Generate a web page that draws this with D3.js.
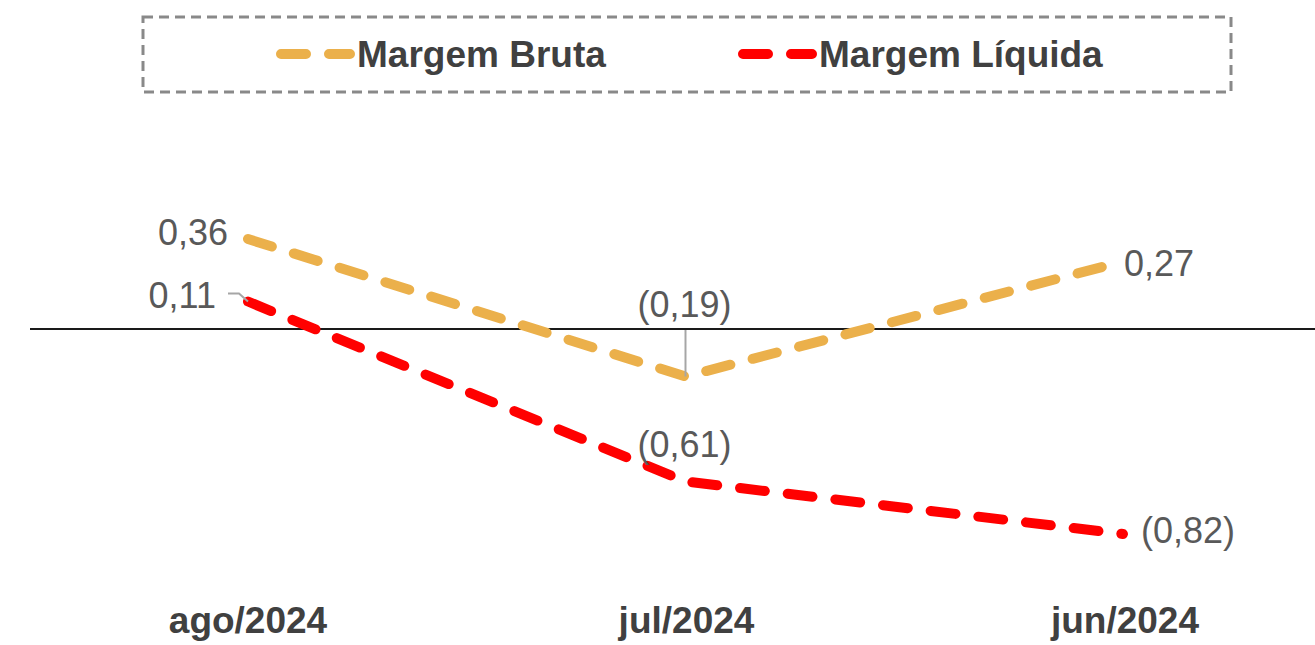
<!doctype html>
<html lang="pt">
<head>
  <meta charset="utf-8">
  <title>Margem Bruta x Margem Líquida</title>
  <script src="https://d3js.org/d3.v7.min.js"></script>
  <style>
    body { margin: 0; background: #fff; }
    svg { display: block; font-family: "Liberation Sans", Arial, sans-serif; }
    .cat { font-weight: bold; fill: #404040; font-size: 37px; text-anchor: middle; }
    .lbl { fill: #595959; font-size: 36px; }
    .leg-text { font-weight: bold; fill: #404040; font-size: 37px; }
  </style>
</head>
<body>
  <div id="chart"></div>
  <script>
    // data
    const months = ['ago/2024', 'jul/2024', 'jun/2024'];
    const margemBruta = [0.36, -0.19, 0.27];
    const margemLiquida = [0.11, -0.61, -0.82];
    const seriesNames = ['Margem Bruta', 'Margem Líquida'];
    const seriesColors = ['#ebb04b', '#ff0000'];

    const width = 1315, height = 645;

    const svg = d3.select('#chart').append('svg')
      .attr('width', width)
      .attr('height', height);

    // scales
    const x = d3.scalePoint().domain(months).range([248, 1123]);
    const y = d3.scaleLinear().domain([-1, 0.6]).range([579, 179]);

    // format like "0,36" / "(0,19)"
    const fmt = v => {
      const s = d3.format('.2f')(Math.abs(v)).replace('.', ',');
      return v < 0 ? '(' + s + ')' : s;
    };

    // legend box
    svg.append('rect')
      .attr('x', 143).attr('y', 17)
      .attr('width', 1088).attr('height', 75)
      .attr('fill', 'none')
      .attr('stroke', '#898989')
      .attr('stroke-width', 3)
      .attr('stroke-dasharray', '10,6');

    const legX = [281, 743];
    seriesNames.forEach((name, i) => {
      const g = svg.append('g').attr('transform', `translate(${legX[i]},54)`);
      g.append('line')
        .attr('x1', 0).attr('x2', 69)
        .attr('stroke', seriesColors[i])
        .attr('stroke-width', 10)
        .attr('stroke-linecap', 'round')
        .attr('stroke-dasharray', '25,23');
      g.append('text')
        .attr('class', 'leg-text')
        .attr('x', 76).attr('y', 13)
        .text(name);
    });

    // zero line
    svg.append('line')
      .attr('x1', 30).attr('x2', width)
      .attr('y1', y(0)).attr('y2', y(0))
      .attr('stroke', '#1a1a1a')
      .attr('stroke-width', 2);

    // lines
    const line = d3.line()
      .x((d, i) => x(months[i]))
      .y(d => y(d));

    [margemBruta, margemLiquida].forEach((vals, i) => {
      svg.append('path')
        .datum(vals)
        .attr('d', line)
        .attr('fill', 'none')
        .attr('stroke', seriesColors[i])
        .attr('stroke-width', 10)
        .attr('stroke-linecap', 'round')
        .attr('stroke-linejoin', 'round')
        .attr('stroke-dasharray', '25,23');
    });

    // leader lines
    const leader = svg.append('g')
      .attr('fill', 'none')
      .attr('stroke', '#a6a6a6')
      .attr('stroke-width', 2);
    leader.append('path')
      .attr('d', `M${x(months[0]) - 20},${y(margemLiquida[0]) - 8}h11l9,8`);
    leader.append('line')
      .attr('x1', x(months[1])).attr('x2', x(months[1]))
      .attr('y1', y(0) + 1).attr('y2', y(margemBruta[1]));

    // data labels: [series values, index, anchor, dx, dy]
    const labelSpecs = [
      [margemBruta, 0, 'end', -20, 6],
      [margemBruta, 1, 'middle', -1, -60],
      [margemBruta, 2, 'start', 1, 14],
      [margemLiquida, 0, 'end', -32, 6],
      [margemLiquida, 1, 'middle', -1, -25],
      [margemLiquida, 2, 'start', 18, 9]
    ];
    svg.append('g').selectAll('text')
      .data(labelSpecs)
      .join('text')
      .attr('class', 'lbl')
      .attr('text-anchor', d => d[2])
      .attr('x', d => x(months[d[1]]) + d[3])
      .attr('y', d => y(d[0][d[1]]) + d[4])
      .text(d => fmt(d[0][d[1]]));

    // category labels
    svg.append('g').selectAll('text')
      .data(months)
      .join('text')
      .attr('class', 'cat')
      .attr('x', (d, i) => x(d) + i)
      .attr('y', 633)
      .text(d => d);
  </script>
</body>
</html>
